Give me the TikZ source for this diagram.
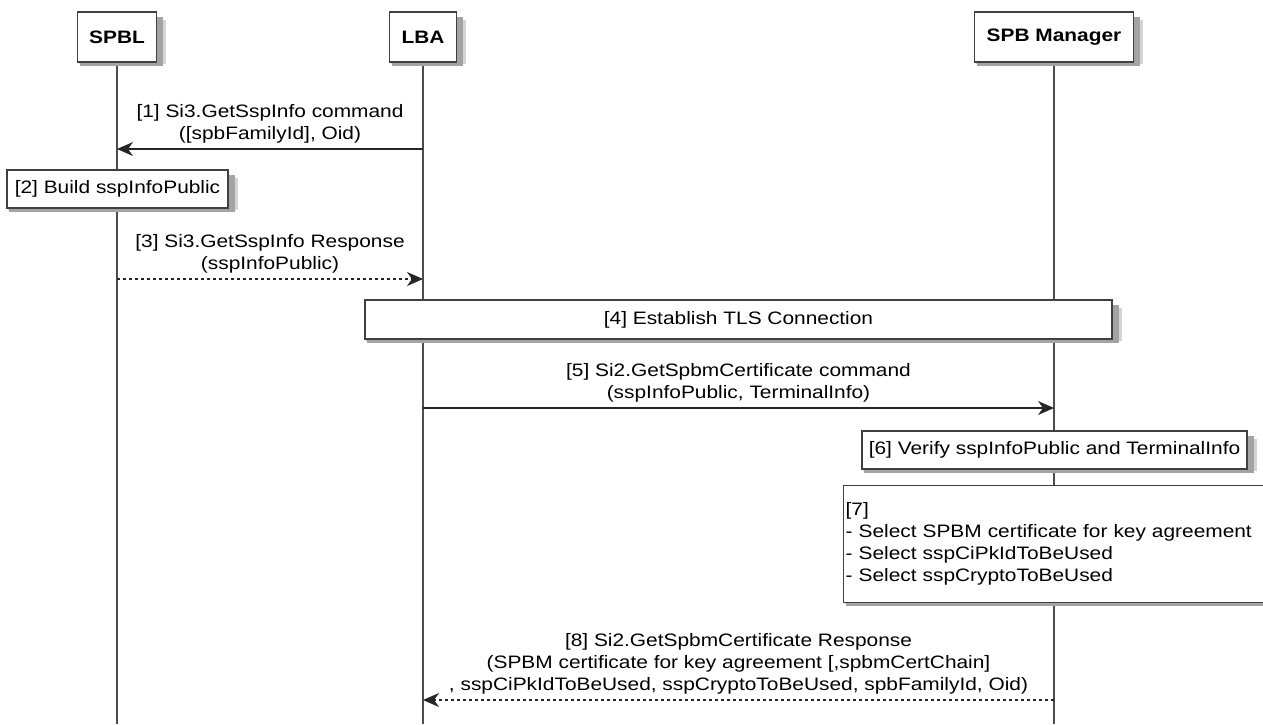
\documentclass[tikz,border=0pt]{standalone}
\usepackage{fontspec}
\setmainfont{Liberation Sans}[FakeStretch=1.16]
\usepackage{tikz}
\usetikzlibrary{arrows.meta,backgrounds}

\begin{document}
\begin{tikzpicture}
		[x=1pt,y=-1pt,
		%Styles
		every node/.style={font=\fontsize{18}{22}\selectfont},
		boxed/.style={draw=boxcolor,line width=1.3pt,fill=white},
		participant/.style={boxed,minimum height=50pt,inner xsep=12pt,
			font=\fontsize{18}{22}\selectfont\bfseries},
		note/.style={boxed,inner sep=2pt},
		soft shadow/.style={fill=black!17},
		hard shadow/.style={fill=black!36},
		lifeline/.style={draw=linecolor,line width=1.2pt},
		message/.style={draw=arrowcolor,line width=1.2pt,-{Stealth[length=16pt,width=14pt,inset=5pt]}},
		reply/.style={message,dash pattern=on 3pt off 3pt},
		message text/.style={align=center,inner sep=0pt,above=5pt}
		]
		
		%Colors
		\colorlet{boxcolor}{black!75}	%borders of boxes
		\colorlet{linecolor}{black!70}	%lifelines
		\colorlet{arrowcolor}{black!85}	%messages
		
		\useasboundingbox (0,0) rectangle (1263,724);
		\clip (0,0) rectangle (1263,724);
		
		%The graphic
		\node[participant] (spbl) at (117,37) {SPBL};
		\node[participant] (lba) at (423,37) {LBA};
		\node[participant] (spbm) at (1054,37) {SPB Manager};
		
		%Message rows
		\coordinate (m1) at (0,149);
		\coordinate (m3) at (0,279);
		\coordinate (m5) at (0,408);
		\coordinate (m8) at (0,700);
		
		\draw[message] (lba |- m1) -- node[message text]{[1] Si3.GetSspInfo command\\([spbFamilyId], Oid)} (spbl |- m1);
		
		\node[note,minimum width=221pt,minimum height=38pt] (build) at (117.5,189) {[2] Build sspInfoPublic};
		
		\draw[reply] (spbl |- m3) -- node[message text]{[3] Si3.GetSspInfo Response\\(sspInfoPublic)} (lba |- m3);
		
		\node[note,minimum width=747pt,minimum height=39pt] (tls) at (738.5,319.5) {[4] Establish TLS Connection};
		
		\draw[message] (lba |- m5) -- node[message text]{[5] Si2.GetSpbmCertificate command\\(sspInfoPublic, TerminalInfo)} (spbm |- m5);
		
		\node[note,minimum width=385pt,minimum height=38pt] (verify) at (1054.5,450) {[6] Verify sspInfoPublic and TerminalInfo};
		
		\node[note,anchor=north west,text width=418pt,minimum height=117pt,align=left] (select) at (843,485)
			{[7]\\- Select SPBM certificate for key agreement\\- Select sspCiPkIdToBeUsed\\- Select sspCryptoToBeUsed};
		
		\draw[reply] (spbm |- m8) -- node[message text]{[8] Si2.GetSpbmCertificate Response\\(SPBM certificate for key agreement [,spbmCertChain]\\, sspCiPkIdToBeUsed, sspCryptoToBeUsed, spbFamilyId, Oid)} (lba |- m8);
		
		%Lifelines and shadows behind the boxes
		\coordinate (bottom) at (0,724);
		\begin{scope}[on background layer]
			\draw[lifeline] (spbl.south) -- (spbl |- bottom);
			\draw[lifeline] (lba.south) -- (lba |- bottom);
			\draw[lifeline] (spbm.south) -- (spbm |- bottom);
			\foreach \n in {spbl,lba,spbm,build,tls,verify,select}{
				\fill[soft shadow] ([xshift=2pt,yshift=-1pt]\n.south west) rectangle ([xshift=9pt,yshift=-9pt]\n.north east);
				\fill[hard shadow] ([xshift=3pt,yshift=-3pt]\n.south west) rectangle ([xshift=6pt,yshift=-6pt]\n.north east);
			}
		\end{scope}
	\end{tikzpicture}
\end{document}
